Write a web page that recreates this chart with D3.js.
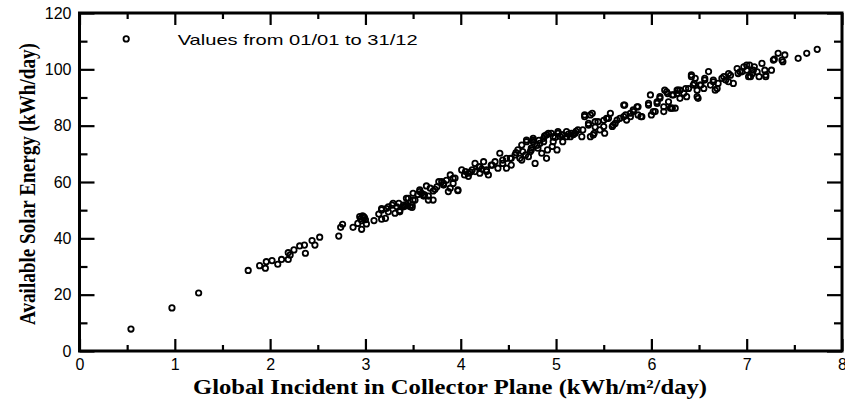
<!DOCTYPE html>
<html>
<head>
<meta charset="utf-8">
<script src="https://cdn.jsdelivr.net/npm/d3@7"></script>
<style>
  body { margin: 0; background: #fff; }
  svg { display: block; }
</style>
</head>
<body>
<div id="chart"></div>
<script>
// values: [global incident kWh/m2/day, available energy kWh/day]
let lowDays = [
  [0.54, 7.8], [0.97, 15.3], [1.25, 20.6], [1.77, 28.6], [1.89, 30.3], [1.95, 29.4],
  [1.96, 31.7], [2.02, 32.1], [2.08, 30.8], [2.12, 32.5], [2.19, 32.5], [2.19, 34.9],
  [2.21, 34.1], [2.25, 35.9], [2.31, 37.3], [2.36, 37.6], [2.37, 34.7], [2.44, 39.2],
  [2.47, 37.6], [2.52, 40.4], [2.72, 40.8], [2.74, 43.9], [2.76, 45.0], [2.87, 43.9],
  [2.92, 45.3], [2.96, 43.2], [2.94, 47.7], [2.98, 47.7], [2.95, 47.0], [2.97, 48.0],
  [2.99, 47.4], [3.00, 46.6], [2.96, 46.3], [3.01, 45.1], [3.09, 46.3], [3.14, 48.6],
  [3.17, 46.8], [3.17, 50.1], [3.17, 50.6], [3.21, 47.1], [3.22, 50.6], [3.24, 51.2],
  [3.24, 49.4], [3.28, 51.8], [3.29, 52.4], [3.31, 48.9], [3.33, 51.2], [3.35, 52.4],
  [3.36, 49.9], [3.36, 49.4], [3.40, 51.2], [3.40, 51.8], [3.42, 51.5], [3.43, 54.2],
  [3.43, 52.0], [3.45, 54.2], [3.47, 51.2], [3.49, 51.0], [3.49, 51.8], [3.50, 53.6],
  [3.50, 56.0], [3.52, 53.6], [3.57, 56.6], [3.57, 57.2], [3.59, 56.0], [3.61, 55.4],
  [3.61, 55.0], [3.62, 55.4], [3.64, 58.6], [3.66, 55.0], [3.66, 53.6], [3.68, 57.8],
  [3.71, 53.6], [3.71, 56.8], [3.75, 58.3], [3.77, 60.1], [3.80, 60.1], [3.82, 58.9],
  [3.82, 59.5], [3.87, 56.6], [3.89, 62.5], [3.89, 57.8], [3.92, 59.5], [3.92, 61.3],
  [3.94, 61.4], [3.97, 56.9], [3.97, 57.2], [3.55, 55.6], [3.73, 57.4], [3.85, 60.6]
]

let midDays = [
  [4.01, 64.3], [4.04, 62.5], [4.05, 63.7], [4.08, 63.1], [4.08, 62.0], [4.12, 64.3],
  [4.15, 66.6], [4.15, 63.7], [4.19, 65.4], [4.20, 63.1], [4.20, 65.4], [4.24, 67.2],
  [4.27, 64.3], [4.27, 63.7], [4.29, 62.5], [4.32, 66.0], [4.33, 66.0], [4.36, 67.2],
  [4.39, 64.9], [4.41, 70.2], [4.44, 67.8], [4.44, 66.6], [4.48, 64.9], [4.48, 68.4],
  [4.52, 68.4], [4.53, 66.0], [4.53, 68.4], [4.57, 69.6], [4.60, 71.4], [4.62, 68.4],
  [4.64, 67.8], [4.64, 73.1], [4.65, 70.8], [4.68, 69.6], [4.69, 74.3], [4.69, 74.9],
  [4.71, 69.0], [4.73, 70.8], [4.74, 71.4], [4.74, 72.0], [4.76, 75.5], [4.76, 74.9],
  [4.76, 74.3], [4.78, 66.6], [4.80, 73.0], [4.81, 72.0], [4.83, 73.7], [4.85, 70.2],
  [4.87, 74.3], [4.87, 75.5], [4.90, 68.4], [4.90, 76.7], [4.91, 71.4], [4.92, 77.3],
  [4.95, 77.3], [4.96, 72.6], [4.97, 76.1], [4.97, 74.3], [5.01, 71.4], [5.02, 77.9],
  [5.02, 77.3], [5.06, 76.7], [5.07, 74.3], [5.07, 76.7], [5.11, 77.9], [5.11, 76.1],
  [5.15, 76.1], [5.16, 77.3], [5.20, 77.3], [5.21, 78.0], [5.23, 78.5], [5.27, 76.1],
  [5.28, 78.5], [5.30, 83.8], [5.30, 83.2], [5.34, 80.8], [5.34, 80.2], [5.36, 76.1],
  [5.36, 83.8], [5.38, 84.4], [5.39, 76.7], [5.40, 77.3], [5.41, 79.5], [5.41, 81.4],
  [5.44, 81.4], [5.46, 78.5], [5.50, 79.7], [5.50, 81.9], [5.51, 77.3], [5.53, 82.6],
  [5.55, 82.6], [5.57, 84.4], [5.59, 79.7], [5.60, 80.2], [5.62, 80.8], [5.64, 82.0],
  [5.67, 82.6], [5.71, 83.2], [5.71, 87.3], [5.72, 87.3], [5.73, 83.8], [5.74, 82.0],
  [5.78, 83.2], [5.78, 84.4], [5.81, 85.0], [5.81, 85.6], [5.85, 86.7], [5.86, 83.8],
  [5.86, 86.7], [5.89, 83.2], [5.90, 83.2], [5.97, 87.9], [5.97, 87.3], [5.99, 90.9],
  [4.10, 63.5], [4.22, 64.6], [4.88, 76.4], [4.99, 75.8], [5.04, 76.2], [5.13, 77.0],
  [5.18, 76.8], [4.58, 70.4], [4.82, 74.8]
]

let highDays = [
  [6.00, 83.8], [6.02, 85.0], [6.04, 85.0], [6.06, 87.9], [6.06, 88.5], [6.09, 90.3],
  [6.09, 89.7], [6.13, 86.7], [6.13, 85.0], [6.14, 92.6], [6.16, 92.0], [6.17, 91.4],
  [6.18, 88.5], [6.20, 86.2], [6.21, 86.2], [6.22, 90.9], [6.22, 86.2], [6.23, 90.9],
  [6.25, 86.2], [6.27, 92.6], [6.27, 91.4], [6.28, 92.6], [6.30, 89.7], [6.30, 92.6],
  [6.34, 91.5], [6.36, 93.2], [6.37, 90.3], [6.39, 93.2], [6.42, 97.4], [6.42, 98.0],
  [6.44, 94.4], [6.45, 95.0], [6.46, 96.8], [6.48, 92.6], [6.48, 90.3], [6.49, 89.7],
  [6.51, 94.4], [6.52, 94.4], [6.55, 93.2], [6.56, 96.2], [6.56, 96.8], [6.60, 99.2],
  [6.62, 94.4], [6.65, 95.6], [6.65, 96.2], [6.67, 92.6], [6.69, 93.2], [6.70, 95.0],
  [6.74, 96.8], [6.76, 97.4], [6.78, 96.2], [6.81, 95.6], [6.81, 98.5], [6.83, 97.9],
  [6.86, 95.0], [6.90, 100.3], [6.91, 98.5], [6.93, 99.1], [6.95, 99.1], [6.97, 100.9],
  [7.00, 99.7], [7.00, 101.5], [7.02, 97.4], [7.03, 101.5], [7.04, 97.4], [7.06, 98.5],
  [7.07, 99.7], [7.08, 100.9], [7.11, 99.1], [7.13, 97.4], [7.16, 102.1], [7.19, 99.7],
  [7.20, 97.4], [7.20, 98.0], [7.26, 99.7], [7.28, 103.3], [7.29, 103.6], [7.33, 105.7],
  [7.37, 103.3], [7.38, 102.7], [7.40, 105.1], [7.54, 103.9], [7.63, 105.7], [7.74, 107.1]
]

let xMajor = [0, 1, 2, 3, 4, 5, 6, 7, 8]
let xMinor = [0.5, 1.5, 2.5, 3.5, 4.5, 5.5, 6.5, 7.5]
let yMajor = [0, 20, 40, 60, 80, 100, 120]
let yMinor = [10, 30, 50, 70, 90, 110]
let legendText = 'Values from 01/01 to 31/12'

// Margin convention
let margin = {top: 13, right: 3, left: 79.5, bottom: 55}
let width = 845 - margin.right - margin.left
let height = 406 - margin.top - margin.bottom

let svg = d3.select('div#chart')
  .append('svg')
    .attr('width', 845)
    .attr('height', 406)
  .append('g')
    .attr('transform', `translate(${margin.left}, ${margin.top})`)

let x = d3.scaleLinear().domain([0, 8]).range([0, width])
let y = d3.scaleLinear().domain([0, 120]).range([height, 0])

let sans = 'Liberation Sans, Arial, sans-serif'
let serif = 'Liberation Serif, Times New Roman, serif'

// inward ticks on all four sides
function ticks(axis, vals, size) {
  return axis.tickValues(vals).tickSize(-size).tickFormat('')
}
let bottomAxis = svg.append('g').attr('transform', `translate(0, ${height})`)
bottomAxis.call(ticks(d3.axisBottom(x), xMinor, 6))
bottomAxis.append('g').call(d3.axisBottom(x).tickValues(xMajor).tickSize(-12).tickPadding(8))
let topAxis = svg.append('g')
topAxis.call(ticks(d3.axisTop(x), xMinor, 6))
topAxis.append('g').call(ticks(d3.axisTop(x), xMajor, 12))
let leftAxis = svg.append('g')
leftAxis.call(ticks(d3.axisLeft(y), yMinor, 8))
leftAxis.append('g').call(d3.axisLeft(y).tickValues(yMajor).tickSize(-15).tickPadding(8))
let rightAxis = svg.append('g').attr('transform', `translate(${width}, 0)`)
rightAxis.call(ticks(d3.axisRight(y), yMinor, 8))
rightAxis.append('g').call(ticks(d3.axisRight(y), yMajor, 15))

svg.selectAll('.domain').remove()
svg.selectAll('.tick line').attr('stroke', '#000').attr('stroke-width', 2.2)
svg.selectAll('.tick text')
  .attr('fill', '#000')
  .style('font-family', sans)
  .style('font-size', '16px')

svg.append('rect')
  .attr('width', width)
  .attr('height', height)
  .attr('fill', 'none')
  .attr('stroke', '#000')
  .attr('stroke-width', 3)

let allDays = lowDays.concat(midDays, highDays)
svg.append('g')
  .attr('fill', 'none')
  .attr('stroke', '#000')
  .attr('stroke-width', 1.8)
  .selectAll('circle')
  .data(allDays)
  .enter().append('circle')
  .attr('r', 2.7)
  .attr('cx', d => x(d[0]))
  .attr('cy', d => y(d[1]))

// legend
svg.append('circle')
  .attr('cx', x(0.49))
  .attr('cy', y(110.8))
  .attr('r', 2.7)
  .attr('fill', 'none')
  .attr('stroke', '#000')
  .attr('stroke-width', 1.8)

svg.append('text')
  .attr('x', x(1.03))
  .attr('y', y(110.8) + 6)
  .attr('textLength', 240)
  .attr('lengthAdjust', 'spacingAndGlyphs')
  .style('font-family', sans)
  .style('font-size', '15px')
  .text(legendText)

// axis titles
svg.append('text')
  .attr('x', 450 - margin.left)
  .attr('y', height + 43)
  .attr('text-anchor', 'middle')
  .attr('textLength', 514)
  .attr('lengthAdjust', 'spacingAndGlyphs')
  .style('font-family', serif)
  .style('font-weight', 'bold')
  .style('font-size', '21px')
  .text('Global Incident in Collector Plane (kWh/m²/day)')

svg.append('text')
  .attr('transform', `translate(${35 - margin.left}, ${184 - margin.top}) rotate(-90)`)
  .attr('text-anchor', 'middle')
  .attr('textLength', 282)
  .attr('lengthAdjust', 'spacingAndGlyphs')
  .style('font-family', serif)
  .style('font-weight', 'bold')
  .style('font-size', '24px')
  .text('Available Solar Energy (kWh/day)')
</script>
</body>
</html>
